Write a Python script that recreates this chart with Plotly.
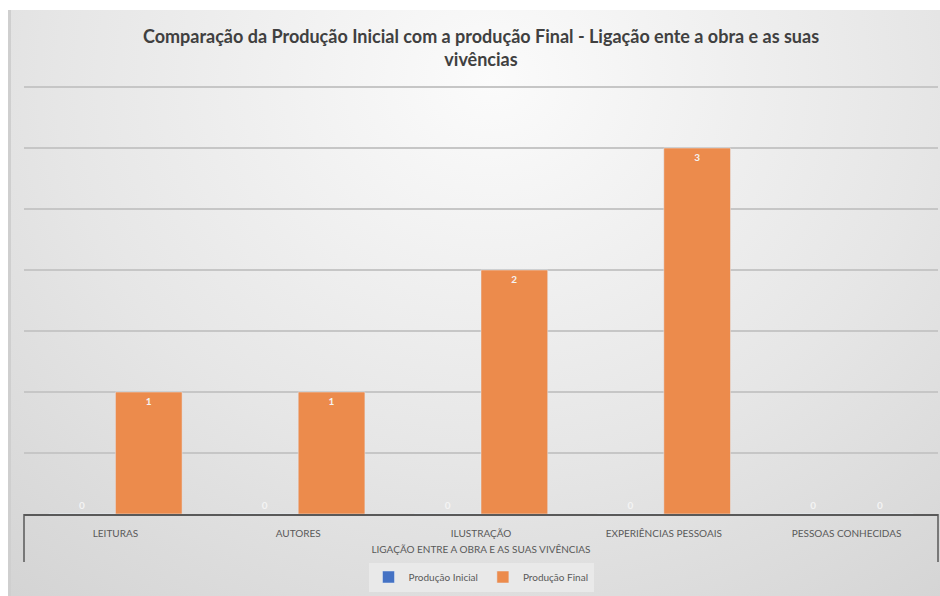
import base64
import plotly.graph_objects as go

categories = ["LEITURAS", "AUTORES", "ILUSTRAÇÃO", "EXPERIÊNCIAS PESSOAIS", "PESSOAS CONHECIDAS"]
group_label = "LIGAÇÃO ENTRE A OBRA E AS SUAS VIVÊNCIAS"
inicial = [0, 0, 0, 0, 0]
final = [1, 1, 2, 3, 0]
series_names = ["Produção Inicial", "Produção Final"]
title_text = "Comparação da Produção Inicial com a produção Final - Ligação ente a obra e as suas<br>vivências"

def positions(vals):
    return ["inside" if v > 0 else "outside" for v in vals]

label_font = dict(color="#f4f4f4", size=10, family="Lato", weight="bold")

fig = go.Figure()
fig.add_trace(go.Bar(
    x=categories, y=inicial, name=series_names[0],
    marker=dict(color="#4472C4"),
    text=[str(v) for v in inicial], textposition=positions(inicial),
    insidetextanchor="end", textfont=label_font, cliponaxis=False,
))
fig.add_trace(go.Bar(
    x=categories, y=final, name=series_names[1],
    marker=dict(color="#EC8B4C"),
    text=[str(v) for v in final], textposition=positions(final),
    insidetextanchor="end", textfont=label_font, cliponaxis=False,
))

svg = """<svg xmlns='http://www.w3.org/2000/svg' width='932' height='586' preserveAspectRatio='none'>
<defs><radialGradient id='g' cx='0.52' cy='0.12' r='0.85' gradientTransform='translate(0.52 0.12) scale(1 1.4) translate(-0.52 -0.12)'>
<stop offset='0' stop-color='#fbfbfb'/><stop offset='0.55' stop-color='#e6e6e6'/><stop offset='1' stop-color='#d2d2d2'/></radialGradient></defs>
<rect width='932' height='586' fill='url(#g)'/>
<rect x='0' y='0' width='3' height='586' fill='#cfcfcf'/>
</svg>"""
src = "data:image/svg+xml;base64," + base64.b64encode(svg.encode()).decode()

L, R, T, B = 24, 2, 85, 82
W, H = 940, 596
pw, ph = W - L - R, H - T - B
px_per_unit = 122
y_top = ph / px_per_unit

fig.add_layout_image(dict(
    source=src, xref="paper", yref="paper",
    x=(8 - L) / pw, y=(H - B - 10) / ph,
    sizex=(W - 8) / pw, sizey=(H - 10) / ph,
    xanchor="left", yanchor="top", sizing="stretch", layer="below",
))

# bracket ends of the category axis
for xp in (0, 1):
    fig.add_shape(type="line", xref="paper", yref="paper",
                  x0=xp, x1=xp, y0=0, y1=-48 / ph,
                  line=dict(color="#595959", width=1.5))

fig.update_layout(
    width=W, height=H,
    margin=dict(l=L, r=R, t=T, b=B),
    paper_bgcolor="white",
    plot_bgcolor="rgba(0,0,0,0)",
    barmode="group",
    bargap=0.27,
    bargroupgap=0,
    title=dict(text=title_text, x=0.5, xref="paper", xanchor="center",
               y=1 - 43 / H, yref="container", yanchor="middle",
               font=dict(family="Lato", size=18, color="#404040", weight="bold")),
    showlegend=True,
    legend=dict(orientation="h", x=0.5, xanchor="center", y=-63 / ph, yanchor="middle",
                font=dict(family="Lato", size=10, color="#595959"),
                bgcolor="#e9e9e9", itemwidth=30),
    font=dict(family="Lato", color="#595959"),
)
fig.update_xaxes(
    type="category",
    showline=True, linecolor="#595959", linewidth=1.5,
    tickfont=dict(family="Lato", size=10, color="#595959"),
    ticks="", showgrid=False, ticklabelstandoff=9,
    title=dict(text=group_label, standoff=8,
               font=dict(family="Lato", size=10, color="#595959")),
)
fig.update_yaxes(
    range=[0, y_top], dtick=0.5, showticklabels=False,
    showgrid=True, gridcolor="#c6c6c6", gridwidth=1.5,
    zeroline=False, showline=False,
)

fig.write_html("out.html")
